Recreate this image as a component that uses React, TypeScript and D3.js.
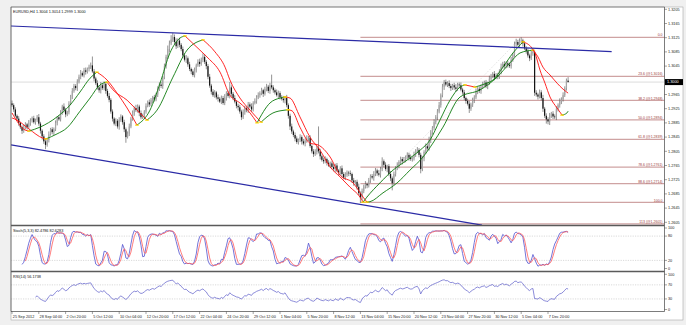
import React from "react";
import * as d3 from "d3";

// ---------- DATA ----------
const PRICE_BASE = 1.2605; // candle & MA values are pips above this
const PIP = 0.0001;
const FIRST_OPEN = 335;

const CLOSE = [
  330,318,300,292,280,268,258,266,276,268,280,287,293,282,288,296,278,258,242,228,218,232,
  248,262,254,262,280,296,290,308,326,316,304,310,334,354,370,384,378,396,410,
  420,414,428,424,432,438,442,425,
  405,392,380,372,386,378,390,370,356,345,312,
  292,278,286,270,288,298,282,262,240,250,
  270,292,308,322,316,326,308,296,300,312,
  328,338,332,344,352,346,360,374,388,384,408,
  440,466,488,504,515,522,508,496,512,500,
  488,470,458,462,445,432,425,415,428,442,452,446,458,466,452,440,
  410,385,368,358,366,352,348,340,350,336,352,364,356,
  380,362,350,340,328,324,312,296,310,322,316,332,326,318,336,342,352,
  358,364,372,362,376,382,370,386,380,
  372,366,358,364,352,348,344,352,
  330,300,270,256,246,
  236,226,232,240,228,222,230,236,238,215,200,192,198,210,200,
  186,176,172,178,168,160,166,156,150,160,146,140,152,
  136,126,134,140,138,136,118,112,114,100,82,70,
  88,100,108,104,118,130,126,136,146,138,134,150,172,
  162,150,158,136,124,110,
  136,152,160,170,178,172,176,184,190,182,178,180,192,200,204,190,150,
  180,198,214,208,232,252,266,282,296,312,330,358,382,
  395,388,392,384,378,386,380,376,388,
  386,374,366,350,342,334,320,332,344,352,368,376,370,382,388,
  394,384,392,404,412,418,408,414,410,426,438,446,440,448,444,440,458,472,
  502,508,500,510,512,504,490,482,470,462,476,480,
  365,360,354,366,350,320,300,290,284,300,306,298,296,318,330,342,346,358,378,399,395,
];

const HI_WICK = [
  8,5,6,4,7,3,5,9,6,4,8,6,5,7,4,6,9,5,4,6,
  7,5,8,4,6,5,7,3,6,8,5,9,6,4,7,5,8,6,5,7,
  6,9,5,7,8,4,6,8,25,7,5,8,6,9,5,7,4,6,8,5,
  6,4,7,5,8,6,4,7,5,6,8,5,7,4,9,6,5,7,6,4,
  7,5,8,6,4,7,5,9,6,8,5,7,6,10,8,12,12,7,10,6,
  8,5,7,6,9,5,7,4,6,8,5,7,9,6,10,7,5,6,8,5,
  7,6,4,8,5,7,6,9,5,7,15,6,5,8,4,6,7,5,8,6,
  4,7,6,9,5,7,6,8,5,7,4,6,8,5,7,30,6,5,8,7,
  5,6,8,4,7,5,6,8,5,7,6,4,8,5,7,6,9,5,7,4,
  6,8,5,60,7,5,6,8,4,7,5,6,9,5,7,4,6,8,5,7,
  6,5,8,4,7,5,6,9,5,7,6,8,4,7,5,6,8,7,5,9,
  6,11,5,7,4,6,8,5,7,6,9,5,7,6,8,4,7,6,9,5,
  7,6,8,5,6,7,5,8,6,9,7,5,8,6,7,9,5,8,6,7,
  5,8,6,4,7,9,5,6,8,5,7,4,6,8,5,7,6,9,5,7,
  6,8,5,7,4,9,6,5,8,6,7,5,9,6,8,5,7,6,8,5,
  7,9,6,8,9,5,7,6,8,5,7,6,4,7,5,8,6,9,5,7,
  6,8,5,7,6,9,5,7,6,8,5,6,10,
];

const LO_WICK = [
  5,7,4,6,8,5,9,6,4,7,5,8,6,4,7,5,6,8,9,7,
  12,5,7,4,6,8,5,7,4,6,5,7,8,5,6,4,7,5,6,8,
  5,7,4,6,8,5,7,6,4,8,5,6,7,9,5,6,8,5,7,6,
  8,5,7,6,9,5,7,8,16,4,7,5,6,8,5,7,9,6,5,7,
  6,4,7,5,8,6,5,7,4,6,8,5,7,6,9,5,7,6,8,5,
  7,6,8,5,9,7,6,8,5,7,6,4,8,5,7,6,9,7,6,8,
  5,7,6,8,4,7,5,6,9,5,7,8,6,5,7,9,6,8,5,7,
  6,8,5,7,6,4,8,5,7,6,9,5,7,6,8,5,7,6,4,8,
  6,5,7,9,6,8,10,7,6,8,5,7,6,9,5,8,6,7,5,6,
  8,5,7,6,9,5,7,6,8,4,7,5,6,8,5,7,6,9,5,7,
  6,8,5,7,9,6,8,5,15,7,6,5,8,6,7,5,9,6,7,5,
  8,6,7,5,9,6,8,20,6,7,5,8,6,9,5,7,6,8,5,7,
  6,8,5,7,12,6,8,5,7,6,9,5,7,6,8,5,7,6,9,5,
  7,6,8,5,7,9,6,8,5,7,6,8,5,12,6,7,8,5,7,6,
  8,5,7,6,9,5,7,6,8,5,7,6,9,5,7,6,8,5,7,6,
  6,8,5,7,6,9,5,7,6,8,5,7,9,6,8,5,7,9,6,12,
  8,10,6,7,5,8,6,7,9,6,5,7,1,
];

// Two slope-coloured moving averages: [bar index, pips above PRICE_BASE]
const FAST_MA: [number, number][] = [
  [0,308],[7.8,260],[10.1,257],[16.7,268],[26.9,297],[34.6,330],[40.6,367],[46.6,406],[50.7,423],
  [56.7,401],[62.7,364],[68.7,322],[74.6,274],[82.4,316],[88.4,392],[94.3,477],[100.3,519],[103.3,525],
  [112.2,485],[117,463],[124.2,423],[130.1,358],[136.1,336],[142.1,308],[146.3,280],[154,336],[160,350],
  [163,353],[166,350],[171.9,297],[177.9,240],[183.9,203],[189.9,156],[195.8,128],[201.8,99],[207.8,71],
  [209.6,57],[211.9,71],[219.7,111],[227.5,147],[235.8,175],[243.6,203],[249.6,232],[255.5,288],[261.5,344],
  [267.5,381],[270.4,387],[276.4,381],[282.4,390],[287.2,401],[293.1,437],[299.1,477],[305.1,508],[310.4,491],
  [312.2,477],[315.2,429],[318.2,392],[321.2,353],[325.4,322],[328.4,302],[331.3,308],[332,313],
];
const SLOW_MA: [number, number][] = [
  [0,294],[3,288],[10.1,263],[18.5,237],[20.3,235],[26.9,249],[32.8,266],[40.6,313],[46.6,350],[52.5,387],
  [56.7,395],[60.3,373],[68.7,344],[74.6,316],[80.6,288],[86.6,316],[96.1,409],[104.5,485],[114,514],
  [121.2,480],[127.2,437],[130.1,401],[136.1,350],[142.1,316],[148.7,282],[155.8,308],[163,316],[164.8,317],
  [167.2,314],[171.9,268],[177.9,223],[182.7,218],[189.9,184],[195.8,133],[203.6,111],[209.6,71],[211.9,57],
  [213.7,58],[221.5,83],[229.9,111],[237.6,147],[245.4,184],[251.3,223],[257.3,268],[267.5,353],[279.4,373],
  [289.6,409],[297.3,449],[303.3,477],[311,485],[314,466],[317,437],[321.2,415],[325.4,392],[329,375],[332,364],
];

// Trend channel lines: [bar index, price]
const UPPER_TREND: [number, number][] = [[-0.6, 1.3158], [358, 1.3086]];
const LOWER_TREND: [number, number][] = [[-0.6, 1.2823], [280.6, 1.2597]];

// Fibonacci retracement
const FIB_HIGH = 1.3126;
const FIB_LOW = 1.2661;
const FIB_LOW_BAR = 208;
const FIB_HIGH_BAR = 304;
const FIB_LEVELS = [0, 23.6, 38.2, 50, 61.8, 78.6, 88.6, 100, 113];
const FIB_LABELS = ["0.0", "23.6 (@1.3016)", "38.2 (@1.2948)", "50.0 (@1.2894)", "61.8 (@1.2839)",
  "78.6 (@1.2761)", "88.6 (@1.2714)", "100.0", "113 (@1.2601)"];

const PRICE_TICKS = [1.3205, 1.3165, 1.3125, 1.3085, 1.3045, 1.3005, 1.2965, 1.2925, 1.2885,
  1.2845, 1.2805, 1.2765, 1.2725, 1.2685, 1.2645, 1.2605];
const LAST_PRICE = 1.3;
const DATE_BARS = [0,16,32,48,64,80,96,112,128,144,160,176,192,208,224,240,256,272,288,304,320];
const DATE_LABELS = ["25 Sep 2012","28 Sep 04:00","2 Oct 20:00","5 Oct 12:00","10 Oct 04:00","12 Oct 20:00",
  "17 Oct 12:00","22 Oct 04:00","24 Oct 20:00","29 Oct 12:00","1 Nov 04:00","5 Nov 20:00","8 Nov 12:00",
  "13 Nov 04:00","15 Nov 20:00","20 Nov 12:00","23 Nov 04:00","27 Nov 20:00","30 Nov 12:00","5 Dec 04:00",
  "7 Dec 20:00"];
const STOCH_TICKS = [100, 80, 20, 0];
const STOCH_LEVELS = [80, 20];
const RSI_TICKS = [100, 70, 30, 0];
const RSI_LEVELS = [70, 30];
const HEADER = "EURUSD,H4  1.3004 1.3014 1.2999 1.3000";
const STOCH_HEADER = "Stoch(5,3,3) 82.4786 82.6283";
const RSI_HEADER = "RSI(14) 56.1738";

// ---------- LAYOUT ----------
const W = 686, H = 325;
const LEFT = 11, AXIS_X = 664.5, RIGHT = 683, TOP = 7;
const MAIN_BOTTOM = 225.5, STOCH_TOP = 226.5, STOCH_BOTTOM = 271.5, RSI_BOTTOM = 311.5;
const FONT = "'Liberation Sans', Arial, sans-serif";
const FS = 3.8;

type Bar = { i: number; o: number; h: number; l: number; c: number };

function runs(pts: [number, number][]) {
  const out: { dir: number; pts: [number, number][] }[] = [];
  let cur: [number, number][] = [pts[0]];
  let dir = 0;
  for (let i = 1; i < pts.length; i++) {
    const d = Math.sign(pts[i][1] - pts[i - 1][1]);
    if (dir === 0 || d === dir || d === 0) {
      if (dir === 0) dir = d;
      cur.push(pts[i]);
    } else {
      out.push({ dir, pts: cur });
      cur = [pts[i - 1], pts[i]];
      dir = d;
    }
  }
  out.push({ dir, pts: cur });
  return out;
}

export default function App() {
  const n = CLOSE.length;
  const bars: Bar[] = CLOSE.map((c, i) => {
    const o = i === 0 ? FIRST_OPEN : CLOSE[i - 1];
    return {
      i,
      o: PRICE_BASE + o * PIP,
      c: PRICE_BASE + c * PIP,
      h: PRICE_BASE + (Math.max(o, c) + HI_WICK[i]) * PIP,
      l: PRICE_BASE + (Math.min(o, c) - LO_WICK[i]) * PIP,
    };
  });

  const x = d3.scaleLinear().domain([0, n - 1]).range([12, 12 + (n - 1) * 1.675]);
  const yMain = d3.scaleLinear().domain([1.2605, 1.3205]).range([222.3, 9.3]);
  const yStoch = d3.scaleLinear().domain([0, 100]).range([268.5, 228]);
  const yRsi = d3.scaleLinear().domain([0, 100]).range([309.5, 274.3]);

  // Stochastic (5,3,3)
  const K: (number | null)[] = new Array(n).fill(null);
  const D: (number | null)[] = new Array(n).fill(null);
  const LL = bars.map((_, i) => (i >= 4 ? d3.min(bars.slice(i - 4, i + 1), b => b.l)! : NaN));
  const HH = bars.map((_, i) => (i >= 4 ? d3.max(bars.slice(i - 4, i + 1), b => b.h)! : NaN));
  for (let i = 6; i < n; i++) {
    let num = 0, den = 0;
    for (let j = i - 2; j <= i; j++) { num += bars[j].c - LL[j]; den += HH[j] - LL[j]; }
    K[i] = den > 0 ? (num / den) * 100 : 100;
  }
  for (let i = 8; i < n; i++) D[i] = ((K[i]! + K[i - 1]! + K[i - 2]!) / 3);

  // RSI(14)
  const RSI: (number | null)[] = new Array(n).fill(null);
  let ag = 0, al = 0;
  for (let i = 1; i <= 14; i++) {
    const ch = bars[i].c - bars[i - 1].c;
    if (ch > 0) ag += ch; else al -= ch;
  }
  ag /= 14; al /= 14;
  RSI[14] = al === 0 ? 100 : 100 - 100 / (1 + ag / al);
  for (let i = 15; i < n; i++) {
    const ch = bars[i].c - bars[i - 1].c;
    ag = (ag * 13 + Math.max(ch, 0)) / 14;
    al = (al * 13 + Math.max(-ch, 0)) / 14;
    RSI[i] = al === 0 ? 100 : 100 - 100 / (1 + ag / al);
  }

  const oscLine = (ys: d3.ScaleLinear<number, number>) =>
    d3.line<number | null>()
      .defined(v => v != null)
      .x((_, i) => x(i))
      .y(v => ys(v as number));

  const maLine = d3.line<[number, number]>()
    .x(d => x(d[0]))
    .y(d => yMain(PRICE_BASE + d[1] * PIP))
    .curve(d3.curveMonotoneX);

  const renderMA = (pts: [number, number][], key: string) => {
    const rs = runs(pts);
    return (
      <g key={key}>
        {rs.map((r, k) => (
          <path key={k} d={maLine(r.pts) || ""} fill="none"
            stroke={r.dir > 0 ? "#0c7a0c" : "#ff1010"} strokeWidth={0.9} />
        ))}
        {rs.slice(1).map((r, k) => {
          const p = r.pts[0];
          const cx = x(p[0]), cy = yMain(PRICE_BASE + p[1] * PIP);
          return <line key={"y" + k} x1={cx - 1.8} x2={cx + 1.8} y1={cy} y2={cy}
            stroke="#ffd800" strokeWidth={1.3} />;
        })}
      </g>
    );
  };

  const fibY = (lvl: number) => yMain(FIB_HIGH - (lvl / 100) * (FIB_HIGH - FIB_LOW));
  const tl = (p: [number, number][]) => ({ x1: x(p[0][0]), y1: yMain(p[0][1]), x2: x(p[1][0]), y2: yMain(p[1][1]) });
  const up = tl(UPPER_TREND), lo = tl(LOWER_TREND);

  return (
    <div style={{ position: "fixed", left: 0, top: 0 }}>
      <svg width={W} height={H} style={{ display: "block" }} fontFamily={FONT}>
        <defs>
          <clipPath id="mainClip"><rect x={LEFT} y={TOP} width={AXIS_X - LEFT} height={MAIN_BOTTOM - TOP} /></clipPath>
          <clipPath id="stochClip"><rect x={LEFT} y={STOCH_TOP} width={AXIS_X - LEFT} height={STOCH_BOTTOM - STOCH_TOP} /></clipPath>
          <clipPath id="rsiClip"><rect x={LEFT} y={STOCH_BOTTOM} width={AXIS_X - LEFT} height={RSI_BOTTOM - STOCH_BOTTOM} /></clipPath>
        </defs>
        <rect x={0} y={0} width={W} height={H} fill="#f0f0f0" />
        <rect x={LEFT} y={TOP} width={RIGHT - LEFT} height={320 - TOP} fill="#ffffff" stroke="#a8a8a8" strokeWidth={0.6} />

        {/* main panel */}
        <g clipPath="url(#mainClip)">
          <line x1={LEFT} x2={AXIS_X} y1={yMain(LAST_PRICE)} y2={yMain(LAST_PRICE)} stroke="#c4c4c4" strokeWidth={0.6} />
          {FIB_LEVELS.map((lv, k) => (
            <line key={k} x1={x(FIB_LOW_BAR)} x2={AXIS_X} y1={fibY(lv)} y2={fibY(lv)} stroke="#cfa3a3" strokeWidth={1.2} />
          ))}
          <line x1={x(FIB_LOW_BAR)} y1={yMain(FIB_LOW)} x2={x(FIB_HIGH_BAR)} y2={yMain(FIB_HIGH)}
            stroke="#b8b8b8" strokeWidth={0.5} strokeDasharray="1,1.5" />
          {bars.map(b => {
            const bull = b.c >= b.o;
            const yt = yMain(Math.max(b.o, b.c)), yb = yMain(Math.min(b.o, b.c));
            return (
              <g key={b.i}>
                <line x1={x(b.i)} x2={x(b.i)} y1={yMain(b.h)} y2={yMain(b.l)} stroke="#4a4a4a" strokeWidth={0.6} />
                <rect x={x(b.i) - 0.6} width={1.2} y={yt} height={Math.max(0.5, yb - yt)}
                  fill={bull ? "#a6a6a6" : "#141414"} />
              </g>
            );
          })}
          {renderMA(SLOW_MA, "slow")}
          {renderMA(FAST_MA, "fast")}
          <line {...up} stroke="#2b2ba6" strokeWidth={1.2} />
          <line {...lo} stroke="#2b2ba6" strokeWidth={1.2} />
          {FIB_LEVELS.map((lv, k) => (
            <text key={k} x={AXIS_X - 2} y={fibY(lv) - 0.9} fontSize={3.5} fill="#9c3b3b" textAnchor="end">{FIB_LABELS[k]}</text>
          ))}
        </g>
        <text x={13} y={12.6} fontSize={FS} fill="#111">{HEADER}</text>

        {/* stochastic */}
        <g clipPath="url(#stochClip)">
          {STOCH_LEVELS.map(v => (
            <line key={v} x1={LEFT} x2={AXIS_X} y1={yStoch(v)} y2={yStoch(v)} stroke="#b4b4b4" strokeWidth={0.5} strokeDasharray="1.2,1.2" />
          ))}
          <path d={oscLine(yStoch)(K) || ""} fill="none" stroke="#5050cf" strokeWidth={0.8} />
          <path d={oscLine(yStoch)(D) || ""} fill="none" stroke="#ff5a5a" strokeWidth={0.8} />
        </g>
        <text x={13} y={232} fontSize={FS} fill="#111">{STOCH_HEADER}</text>

        {/* RSI */}
        <g clipPath="url(#rsiClip)">
          {RSI_LEVELS.map(v => (
            <line key={v} x1={LEFT} x2={AXIS_X} y1={yRsi(v)} y2={yRsi(v)} stroke="#b4b4b4" strokeWidth={0.5} strokeDasharray="1.2,1.2" />
          ))}
          <path d={oscLine(yRsi)(RSI) || ""} fill="none" stroke="#5a5ac8" strokeWidth={0.7} />
        </g>
        <text x={13} y={278} fontSize={FS} fill="#111">{RSI_HEADER}</text>

        {/* frames */}
        <line x1={LEFT} x2={LEFT} y1={TOP} y2={RSI_BOTTOM} stroke="#555" strokeWidth={0.7} />
        <line x1={LEFT} x2={AXIS_X} y1={TOP} y2={TOP} stroke="#555" strokeWidth={0.6} />
        <line x1={AXIS_X} x2={AXIS_X} y1={TOP} y2={RSI_BOTTOM} stroke="#444" strokeWidth={0.7} />
        <line x1={LEFT} x2={AXIS_X} y1={MAIN_BOTTOM} y2={MAIN_BOTTOM} stroke="#5a5a5a" strokeWidth={1.4} />
        <line x1={LEFT} x2={AXIS_X} y1={STOCH_BOTTOM} y2={STOCH_BOTTOM} stroke="#5a5a5a" strokeWidth={1.4} />
        <line x1={LEFT} x2={AXIS_X} y1={RSI_BOTTOM} y2={RSI_BOTTOM} stroke="#444" strokeWidth={0.7} />

        {/* price axis */}
        {PRICE_TICKS.map(p => (
          <g key={p}>
            <line x1={AXIS_X} x2={AXIS_X + 2.5} y1={yMain(p)} y2={yMain(p)} stroke="#444" strokeWidth={0.5} />
            {Math.abs(p - LAST_PRICE) > 0.0012 && (
              <text x={AXIS_X + 3.5} y={yMain(p) + 1.3} fontSize={FS} fill="#222">{p.toFixed(4)}</text>
            )}
          </g>
        ))}
        <rect x={AXIS_X + 0.5} y={yMain(LAST_PRICE) - 3} width={18} height={6} fill="#000" />
        <text x={AXIS_X + 2.5} y={yMain(LAST_PRICE) + 1.4} fontSize={FS} fill="#fff">{LAST_PRICE.toFixed(4)}</text>

        {STOCH_TICKS.map(v => (
          <g key={v}>
            <line x1={AXIS_X} x2={AXIS_X + 2.5} y1={yStoch(v)} y2={yStoch(v)} stroke="#444" strokeWidth={0.5} />
            <text x={AXIS_X + 3.5} y={yStoch(v) + 1.3} fontSize={FS} fill="#222">{v}</text>
          </g>
        ))}
        {RSI_TICKS.map(v => (
          <g key={v}>
            <line x1={AXIS_X} x2={AXIS_X + 2.5} y1={yRsi(v)} y2={yRsi(v)} stroke="#444" strokeWidth={0.5} />
            <text x={AXIS_X + 3.5} y={yRsi(v) + 1.3} fontSize={FS} fill="#222">{v}</text>
          </g>
        ))}

        {/* time axis */}
        {DATE_BARS.map((b, k) => (
          <g key={b}>
            <line x1={x(b)} x2={x(b)} y1={RSI_BOTTOM} y2={RSI_BOTTOM + 2.5} stroke="#444" strokeWidth={0.5} />
            <text x={x(b) + 0.8} y={318} fontSize={FS} fill="#222">{DATE_LABELS[k]}</text>
          </g>
        ))}
      </svg>
    </div>
  );
}
